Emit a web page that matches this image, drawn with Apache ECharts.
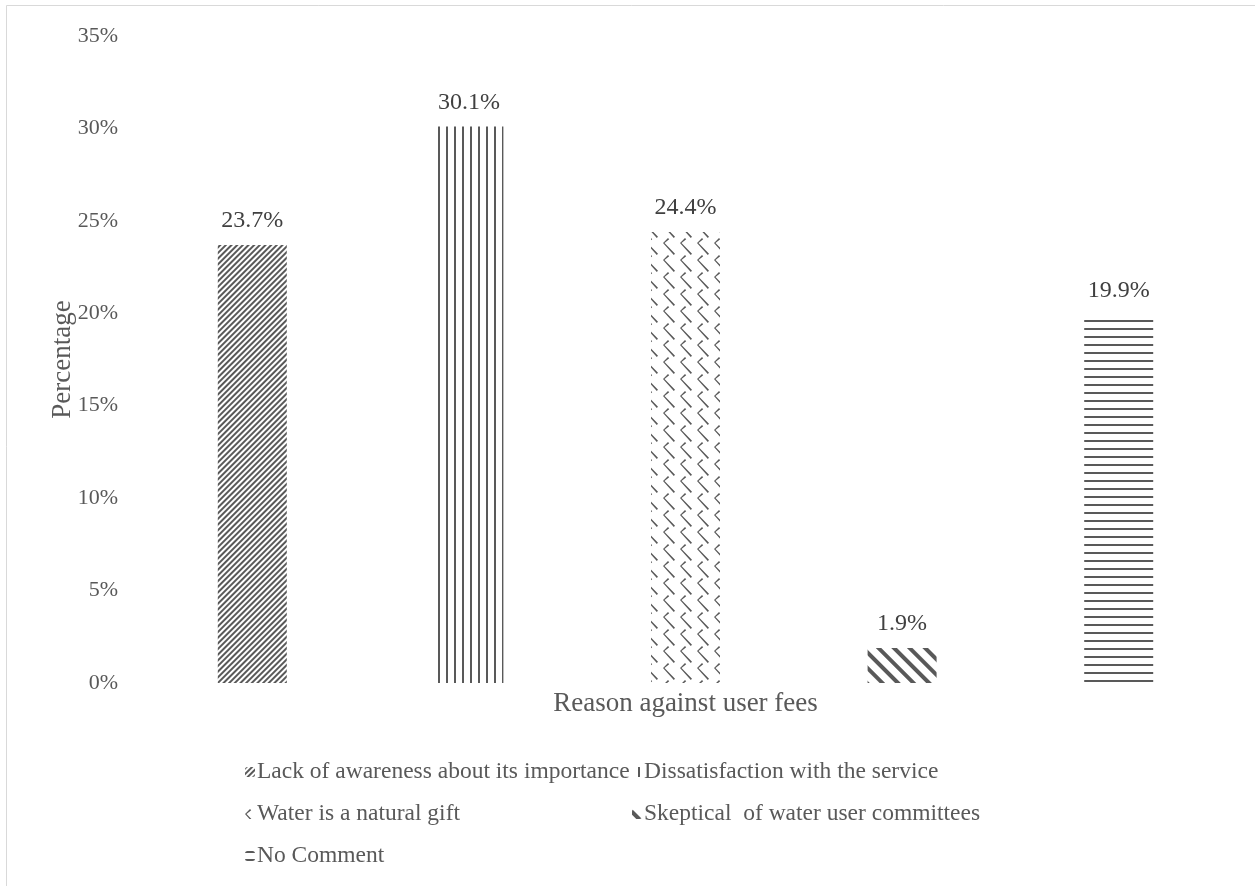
<!DOCTYPE html>
<html>
<head>
<meta charset="utf-8">
<script src="https://cdn.jsdelivr.net/npm/echarts@6/dist/echarts.min.js"></script>
<style>
html,body{margin:0;padding:0;background:#fff;}
#chart{width:1255px;height:886px;}
</style>
</head>
<body>
<div id="chart"></div>
<script>
// ---- data ----
const categories = ['Lack of awareness about its importance', 'Dissatisfaction with the service', 'Water is a natural gift', 'Skeptical  of water user committees', 'No Comment'];
const values = [23.7, 30.1, 24.4, 1.9, 19.9];
const yTicks = [0, 5, 10, 15, 20, 25, 30, 35];
const xAxisTitle = 'Reason against user fees';
const yAxisTitle = 'Percentage';

const FONT = '"Liberation Serif", "Times New Roman", serif';
const INK = '#595959';

const decals = [
  { symbol: 'rect', symbolSize: 1, dashArrayX: [1, 0], dashArrayY: [2, 2], rotation: -Math.PI / 4, color: INK },
  { symbol: 'rect', symbolSize: 1, dashArrayX: [1, 0], dashArrayY: [2, 6], rotation: Math.PI / 2, color: INK },
  { symbol: 'path://M5,0 L6.2,1.2 L1.5,5 L12,15.6 L10.8,16.8 L0,5 Z', symbolSize: 1, dashArrayX: [[12, 5]], dashArrayY: [17, 0], rotation: 0, color: INK },
  { symbol: 'rect', symbolSize: 1, dashArrayX: [1, 0], dashArrayY: [4, 6.5], rotation: Math.PI / 4, color: INK },
  { symbol: 'rect', symbolSize: 1, dashArrayX: [1, 0], dashArrayY: [2, 6], rotation: 0, color: INK }
];

const series = categories.map((name, i) => ({
  name: name,
  type: 'bar',
  stack: 'all',
  barWidth: 69,
  data: categories.map((_, j) => (j === i ? values[i] : '-')),
  itemStyle: { color: '#ffffff', decal: decals[i] },
  label: {
    show: true,
    position: 'top',
    distance: 12,
    formatter: p => p.value + '%',
    fontFamily: FONT,
    fontSize: 24,
    color: '#404040'
  }
}));

const legendPos = [
  { left: 245, top: 760 },
  { left: 632, top: 760 },
  { left: 245, top: 802 },
  { left: 632, top: 802 },
  { left: 245, top: 844 }
];
const legends = categories.map((name, i) => ({
  data: [name],
  left: legendPos[i].left,
  top: legendPos[i].top,
  padding: 0,
  itemWidth: 10,
  itemHeight: 10,
  itemGap: 0,
  selectedMode: false,
  textStyle: { fontFamily: FONT, fontSize: 23.5, color: INK, padding: [0, 0, 0, -3] }
}));

const chart = echarts.init(document.getElementById('chart'), null, { renderer: 'canvas' });
chart.setOption({
  backgroundColor: '#ffffff',
  animation: false,
  aria: { enabled: false },
  graphic: [{
    type: 'rect',
    shape: { x: 6.5, y: 5.5, width: 1300, height: 1000 },
    style: { fill: 'none', stroke: '#d9d9d9', lineWidth: 1 },
    silent: true
  }],
  grid: { left: 144, right: 28, top: 36, bottom: 203, containLabel: false },
  legend: legends,
  xAxis: {
    type: 'category',
    data: categories,
    axisLine: { show: false },
    axisTick: { show: false },
    axisLabel: { show: false },
    name: xAxisTitle,
    nameLocation: 'middle',
    nameGap: 7,
    nameMoveOverlap: false,
    nameTextStyle: { fontFamily: FONT, fontSize: 27, color: INK, verticalAlign: 'top' }
  },
  yAxis: {
    type: 'value',
    min: yTicks[0],
    max: yTicks[yTicks.length - 1],
    interval: 5,
    axisLine: { show: false },
    axisTick: { show: false },
    splitLine: { show: false },
    axisLabel: { formatter: '{value}%', fontFamily: FONT, fontSize: 22, color: INK, margin: 26 },
    name: yAxisTitle,
    nameLocation: 'middle',
    nameGap: 68,
    nameMoveOverlap: false,
    nameTextStyle: { fontFamily: FONT, fontSize: 27, color: INK }
  },
  series: series
});
</script>
</body>
</html>
